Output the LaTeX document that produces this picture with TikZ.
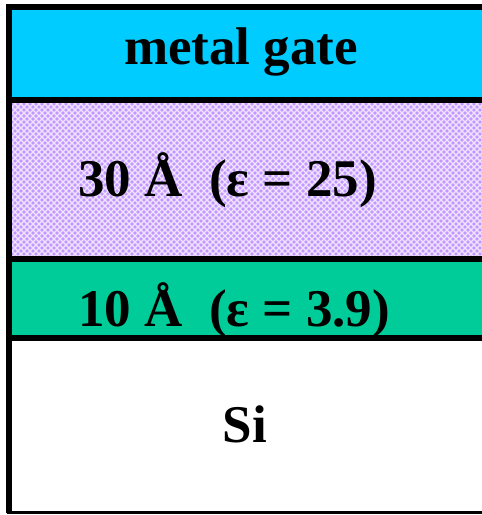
\documentclass[tikz,border=0pt]{standalone}
\usepackage{fontspec}
\setmainfont{Liberation Serif}
\usetikzlibrary{patterns}
\definecolor{gatecyan}{RGB}{0,204,255}
\definecolor{oxgreen}{RGB}{0,204,153}
\definecolor{hklilac}{RGB}{196,150,255}
\pgfdeclarepatternformonly{lilacmesh}{\pgfqpoint{-1pt}{-1pt}}{\pgfqpoint{7pt}{7pt}}{\pgfqpoint{6pt}{6pt}}{
  \pgfsetlinewidth{1.1pt}
  \pgfpathmoveto{\pgfqpoint{0pt}{0pt}}\pgfpathlineto{\pgfqpoint{6pt}{6pt}}
  \pgfpathmoveto{\pgfqpoint{0pt}{6pt}}\pgfpathlineto{\pgfqpoint{6pt}{0pt}}
  \pgfusepath{stroke}}

\begin{document}
\begin{tikzpicture}[
  x=1pt, y=-1pt,
  layer/.style={line width=6pt},
  label/.style={font=\fontsize{53}{60}\selectfont\bfseries, inner sep=0pt},
  labelleft/.style={label, anchor=west}
]
  \useasboundingbox (0,0) rectangle (482,515);
  \clip (0,0) rectangle (482,515);

  % stack of layers
  \fill[gatecyan] (9,6) rectangle (490,100);
  \fill[hklilac] (9,100) rectangle (490,259);
  \fill[pattern=lilacmesh, pattern color=white!75!hklilac] (9,100) rectangle (490,259);
  \fill[oxgreen] (9,259) rectangle (490,338);
  \fill[white] (9,338) rectangle (490,512);

  % borders
  \draw[layer] (490,6.5) -- (9,6.5) -- (9,512.5);
  \draw[line width=3pt] (7,512.5) -- (490,512.5);
  \draw[layer] (9,100) -- (490,100);
  \draw[layer] (9,259) -- (490,259);
  \draw[layer] (9,338) -- (490,338);

  % labels
  \node[label] (gate) at (241,52) {metal gate};
  \node[labelleft] (hik) at (78,180) {30 Å\ \ (ε = 25)};
  \node[labelleft] (ox) at (78,310) {10 Å\ \ (ε = 3.9)};
  \node[label] (si) at (245,424) {Si};
\end{tikzpicture}
\end{document}
